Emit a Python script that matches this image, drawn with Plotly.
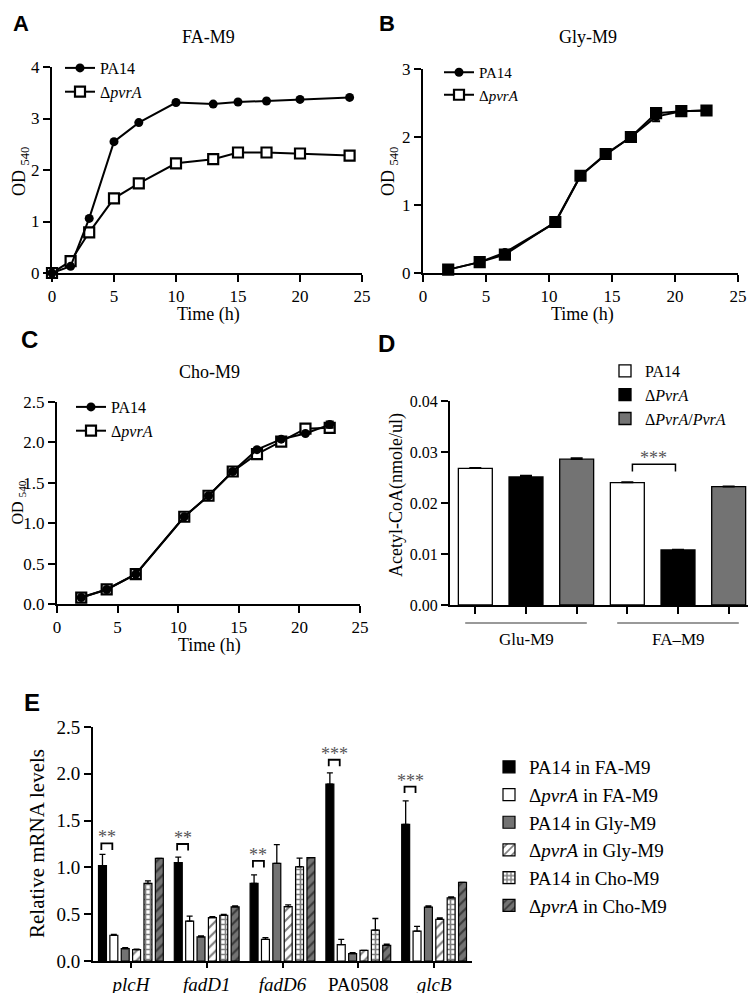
import plotly.graph_objects as go

W, H = 756, 993
OFF = 8  # the page body adds an 8px margin around the figure
SERIF = "Liberation Serif, Times New Roman, serif"
SANS = "Liberation Sans, Arial, sans-serif"
GRAY = "#737373"


def fx(p):
    return (p - OFF) / W


def fy(p):
    return 1 - (p - OFF) / H


# ---------------- Panel A: FA-M9 growth ----------------
a_time = [0, 1.5, 3, 5, 7, 10, 13, 15, 17.3, 20, 24]
a_pa14 = [0, 0.13, 1.06, 2.55, 2.92, 3.31, 3.28, 3.32, 3.34, 3.37, 3.41]
a_dpvra = [0, 0.23, 0.79, 1.45, 1.74, 2.13, 2.21, 2.34, 2.34, 2.32, 2.28]

# ---------------- Panel B: Gly-M9 growth ----------------
b_time = [2, 4.5, 6.5, 10.5, 12.5, 14.5, 16.5, 18.5, 20.5, 22.5]
b_pa14 = [0.05, 0.16, 0.30, 0.74, 1.43, 1.74, 2.0, 2.30, 2.38, 2.39]
b_pa14_err = [0, 0, 0, 0, 0, 0, 0, 0.07, 0, 0]
b_dpvra = [0.05, 0.16, 0.27, 0.75, 1.43, 1.75, 2.0, 2.35, 2.38, 2.39]

# ---------------- Panel C: Cho-M9 growth ----------------
c_time = [2, 4.1, 6.5, 10.5, 12.5, 14.5, 16.5, 18.5, 20.5, 22.5]
c_pa14 = [0.08, 0.18, 0.37, 1.08, 1.34, 1.64, 1.91, 2.04, 2.11, 2.22]
c_pa14_err = [0, 0, 0, 0, 0, 0, 0, 0, 0, 0.04]
c_dpvra = [0.08, 0.18, 0.37, 1.08, 1.34, 1.64, 1.855, 2.01, 2.17, 2.18]

# ---------------- Panel D: Acetyl-CoA ----------------
d_groups = ["Glu-M9", "FA\u2013M9"]
d_pa14 = [0.0268, 0.0240]
d_dpvra = [0.0251, 0.0108]
d_comp = [0.0286, 0.0232]
d_pa14_err = [0.0001, 0.0001]
d_dpvra_err = [0.0003, 0.0001]
d_comp_err = [0.0002, 0.0001]

# ---------------- Panel E: relative mRNA ----------------
e_genes = ["<i>plcH</i>", "<i>fadD1</i>", "<i>fadD6</i>", "PA0508", "<i>glcB</i>"]
e_pa14_fa = [1.02, 1.05, 0.83, 1.89, 1.46]
e_pa14_fa_err = [0.12, 0.06, 0.09, 0.12, 0.25]
e_dpvra_fa = [0.275, 0.425, 0.23, 0.175, 0.32]
e_dpvra_fa_err = [0.01, 0.055, 0.02, 0.057, 0.05]
e_pa14_gly = [0.132, 0.257, 1.043, 0.079, 0.575]
e_pa14_gly_err = [0.01, 0.01, 0.2, 0.01, 0.015]
e_dpvra_gly = [0.121, 0.464, 0.58, 0.114, 0.446]
e_dpvra_gly_err = [0.005, 0.01, 0.02, 0.0, 0.015]
e_pa14_cho = [0.83, 0.489, 1.007, 0.329, 0.675]
e_pa14_cho_err = [0.027, 0.01, 0.093, 0.125, 0.01]
e_dpvra_cho = [1.096, 0.579, 1.104, 0.168, 0.839]
e_dpvra_cho_err = [0.0, 0.01, 0.0, 0.012, 0.0]
e_sig = ["**", "**", "**", "***", "***"]
e_sig_y = [1.257, 1.25, 1.07, 2.15, 1.864]

fig = go.Figure()

line_kw = dict(color="black", width=2)
circ = dict(symbol="circle", size=9, color="black")
sq = dict(symbol="square", size=10, color="white", line=dict(color="black", width=2.2))

# Panel A
fig.add_trace(go.Scatter(x=a_time, y=a_dpvra, mode="lines+markers", name="\u0394<i>pvrA</i>",
                         line=line_kw, marker=sq, xaxis="x", yaxis="y", legend="legend",
                         legendgroup="a2", legendrank=2, cliponaxis=False))
fig.add_trace(go.Scatter(x=a_time, y=a_pa14, mode="lines+markers", name="PA14",
                         line=line_kw, marker=circ, xaxis="x", yaxis="y", legend="legend",
                         legendgroup="a1", legendrank=1, cliponaxis=False))
# Panel B
fig.add_trace(go.Scatter(x=b_time, y=b_pa14, mode="lines+markers", name="PA14",
                         line=line_kw, marker=circ, xaxis="x2", yaxis="y2", legend="legend2",
                         error_y=dict(type="data", array=b_pa14_err, color="black", thickness=2, width=4),
                         legendgroup="b1", legendrank=1, cliponaxis=False))
fig.add_trace(go.Scatter(x=b_time, y=b_dpvra, mode="lines+markers", name="\u0394<i>pvrA</i>",
                         line=line_kw, marker=dict(symbol="square", size=10, color="black",
                                                   line=dict(color="black", width=2.2)),
                         xaxis="x2", yaxis="y2", legend="legend2", showlegend=False,
                         legendgroup="b2", cliponaxis=False))
fig.add_trace(go.Scatter(x=[None], y=[None], mode="lines+markers", name="\u0394<i>pvrA</i>",
                         line=line_kw, marker=sq, xaxis="x2", yaxis="y2", legend="legend2",
                         legendgroup="b2", legendrank=2))
# Panel C
fig.add_trace(go.Scatter(x=c_time, y=c_dpvra, mode="lines+markers", name="\u0394<i>pvrA</i>",
                         line=line_kw, marker=sq, xaxis="x3", yaxis="y3", legend="legend3",
                         legendgroup="c2", legendrank=2, cliponaxis=False))
fig.add_trace(go.Scatter(x=c_time, y=c_pa14, mode="lines+markers", name="PA14",
                         line=line_kw, marker=circ, xaxis="x3", yaxis="y3", legend="legend3",
                         error_y=dict(type="data", array=c_pa14_err, color="black", thickness=2, width=4),
                         legendgroup="c1", legendrank=1, cliponaxis=False))

# Panel D
d_series = [("PA14", d_pa14, d_pa14_err, "white"),
            ("\u0394<i>PvrA</i>", d_dpvra, d_dpvra_err, "black"),
            ("\u0394<i>PvrA</i>/<i>PvrA</i>", d_comp, d_comp_err, GRAY)]
for k, (name, vals, errs, col) in enumerate(d_series):
    xs = [g * len(d_series) + k for g in range(len(d_groups))]
    fig.add_trace(go.Bar(x=xs, y=vals, name=name, width=0.67, offset=-0.335,
                         marker=dict(color=col, line=dict(color="black", width=1.3)),
                         error_y=dict(type="data", array=errs, arrayminus=[0] * len(errs), symmetric=False,
                                      color="black", thickness=1.5, width=6),
                         xaxis="x4", yaxis="y4", legend="legend4", legendgroup="d%d" % k))

# Panel E
e_series = [
    ("PA14 in FA-M9", e_pa14_fa, e_pa14_fa_err, dict(color="black")),
    ("\u0394<i>pvrA</i> in FA-M9", e_dpvra_fa, e_dpvra_fa_err, dict(color="white")),
    ("PA14 in Gly-M9", e_pa14_gly, e_pa14_gly_err, dict(color=GRAY)),
    ("\u0394<i>pvrA</i> in Gly-M9", e_dpvra_gly, e_dpvra_gly_err,
     dict(color="white", pattern=dict(shape="/", fgcolor="black", bgcolor="white", size=7, solidity=0.3))),
    ("PA14 in Cho-M9", e_pa14_cho, e_pa14_cho_err,
     dict(color="white", pattern=dict(shape="+", fgcolor="black", bgcolor="white", size=5, solidity=0.55))),
    ("\u0394<i>pvrA</i> in Cho-M9", e_dpvra_cho, e_dpvra_cho_err,
     dict(color=GRAY, pattern=dict(shape="/", fgcolor="black", bgcolor=GRAY, size=7, solidity=0.3))),
]
e_x = list(range(len(e_genes)))
for k, (name, vals, errs, mk) in enumerate(e_series):
    mk = dict(mk)
    mk["line"] = dict(color="black", width=1.2)
    fig.add_trace(go.Bar(x=e_x, y=vals, name=name, marker=mk,
                         error_y=dict(type="data", array=errs, arrayminus=[0] * len(errs), symmetric=False,
                                      color="black", thickness=1.3, width=3),
                         xaxis="x5", yaxis="y5", legend="legend5", legendgroup="e%d" % k))

tickfont = dict(family=SERIF, size=17, color="black")
ax = dict(showline=True, linecolor="black", linewidth=2, ticks="outside", ticklen=7, tickwidth=2,
          tickcolor="black", showgrid=False, zeroline=False, tickfont=tickfont, automargin=False)


def leg(px, py, size, gap):
    return dict(x=fx(px), y=fy(py), xanchor="left", yanchor="top", bgcolor="rgba(0,0,0,0)",
                font=dict(family=SERIF, size=size, color="black"), tracegroupgap=gap, traceorder="normal")


fig.update_layout(
    width=W, height=H, margin=dict(l=0, r=0, t=0, b=0, pad=0, autoexpand=False),
    paper_bgcolor="white", plot_bgcolor="white",
    font=dict(family=SERIF, color="black"),
    barmode="group", bargap=0.1, bargroupgap=0.3,
    xaxis=dict(ax, domain=[fx(52), fx(362)], range=[0, 25], tickvals=[0, 5, 10, 15, 20, 25], anchor="y"),
    yaxis=dict(ax, domain=[fy(273), fy(67)], range=[0, 4], tickvals=[0, 1, 2, 3, 4], anchor="x"),
    xaxis2=dict(ax, domain=[fx(423), fx(738)], range=[0, 25], tickvals=[0, 5, 10, 15, 20, 25], anchor="y2"),
    yaxis2=dict(ax, domain=[fy(273), fy(69)], range=[0, 3], tickvals=[0, 1, 2, 3], anchor="x2"),
    xaxis3=dict(ax, domain=[fx(57), fx(360)], range=[0, 25], tickvals=[0, 5, 10, 15, 20, 25], anchor="y3"),
    yaxis3=dict(ax, domain=[fy(604), fy(402)], range=[0, 2.5], tickvals=[0, 0.5, 1, 1.5, 2, 2.5],
                tickformat=".1f", anchor="x3"),
    xaxis4=dict(ax, domain=[fx(450), fx(754)], range=[-0.5, 5.5], tickvals=list(range(6)),
                showticklabels=False, anchor="y4"),
    yaxis4=dict(ax, domain=[fy(605), fy(401)], range=[0, 0.04], tickvals=[0, 0.01, 0.02, 0.03, 0.04],
                tickformat=".2f", anchor="x4", tickfont=dict(family=SERIF, size=16, color="black")),
    xaxis5=dict(ax, domain=[fx(93), fx(472)], range=[-0.5, 4.5], tickvals=e_x, ticktext=e_genes,
                anchor="y5", ticklen=5, tickfont=dict(family=SERIF, size=19, color="black")),
    yaxis5=dict(ax, domain=[fy(961), fy(727)], range=[0, 2.5], tickvals=[0, 0.5, 1, 1.5, 2, 2.5],
                tickformat=".1f", anchor="x5", tickfont=dict(family=SERIF, size=19, color="black")),
    legend=leg(60, 51, 16, 3),
    legend2=leg(439, 56, 15, 0),
    legend3=leg(71, 390, 16, 4),
    legend4=leg(605, 354, 16, 0),
    legend5=leg(489, 748, 19, 9),
)

ann = []


def text(x, y, s, size=18, family=SERIF, angle=0, color="black", xref="paper", yref="paper",
         xanchor="center", yanchor="middle", yshift=0):
    ann.append(dict(x=x, y=y, text=s, showarrow=False, xref=xref, yref=yref, textangle=angle,
                    xanchor=xanchor, yanchor=yanchor, yshift=yshift,
                    font=dict(family=family, size=size, color=color)))


# panel letters (A and B hug the top edge of the page)
text(fx(21), fy(8.5), "<b>A</b>", size=22, family=SANS, yanchor="top")
text(fx(387), fy(8.5), "<b>B</b>", size=22, family=SANS, yanchor="top")
for s, px, py in [("C", 29, 340), ("D", 387, 343), ("E", 32, 702)]:
    text(fx(px), fy(py), "<b>%s</b>" % s, size=24, family=SANS)
# titles
text(fx(208), fy(37), "FA-M9")
text(fx(588), fy(37), "Gly-M9")
text(fx(209), fy(372), "Cho-M9")
# x titles
text(fx(208), fy(314), "Time (h)")
text(fx(582), fy(314), "Time (h)")
text(fx(209), fy(645), "Time (h)")
# y titles
text(fx(20), fy(172), "OD <sub>540</sub>", angle=-90)
text(fx(389), fy(172), "OD <sub>540</sub>", angle=-90)
text(fx(18.5), fy(503), "OD <sub>540</sub>", angle=-90, size=16)
text(fx(397), fy(495), "Acetyl-CoA(nmole/ul)", angle=-90, size=18)
text(fx(37), fy(844), "Relative mRNA levels", angle=-90, size=21)

# D group labels and lines
shapes = []
for g, name in enumerate(d_groups):
    c = g * 3 + 1
    shapes.append(dict(type="line", xref="x4", yref="paper", x0=c - 1.2, x1=c + 1.2,
                       y0=fy(623), y1=fy(623), line=dict(color="#777", width=1.3)))
    ann.append(dict(x=c, y=fy(639), xref="x4", yref="paper", text=name, showarrow=False,
                    font=dict(family=SERIF, size=17, color="black")))

# D significance
d_br = 0.0276
shapes.append(dict(type="path", xref="x4", yref="y4",
                   path="M 3.1 0.0262 L 3.1 %s L 3.95 %s L 3.95 0.0262" % (d_br, d_br),
                   line=dict(color="black", width=1.5)))
ann.append(dict(x=3.52, y=d_br, xref="x4", yref="y4", text="***", showarrow=False, yanchor="bottom",
                yshift=-6, font=dict(family=SERIF, size=18, color="#555")))

# E significance
for g, (s, yb) in enumerate(zip(e_sig, e_sig_y)):
    x0, x1 = g - 0.39, g - 0.245
    shapes.append(dict(type="path", xref="x5", yref="y5",
                       path="M %s %s L %s %s L %s %s L %s %s" % (x0, yb - 0.07, x0, yb, x1, yb, x1, yb - 0.07),
                       line=dict(color="black", width=1.8)))
    ann.append(dict(x=(x0 + x1) / 2, y=yb, xref="x5", yref="y5", text=s, showarrow=False, yanchor="bottom",
                    yshift=-6, font=dict(family=SERIF, size=18, color="#555")))

fig.update_layout(annotations=ann, shapes=shapes)
fig.write_html("out.html")
